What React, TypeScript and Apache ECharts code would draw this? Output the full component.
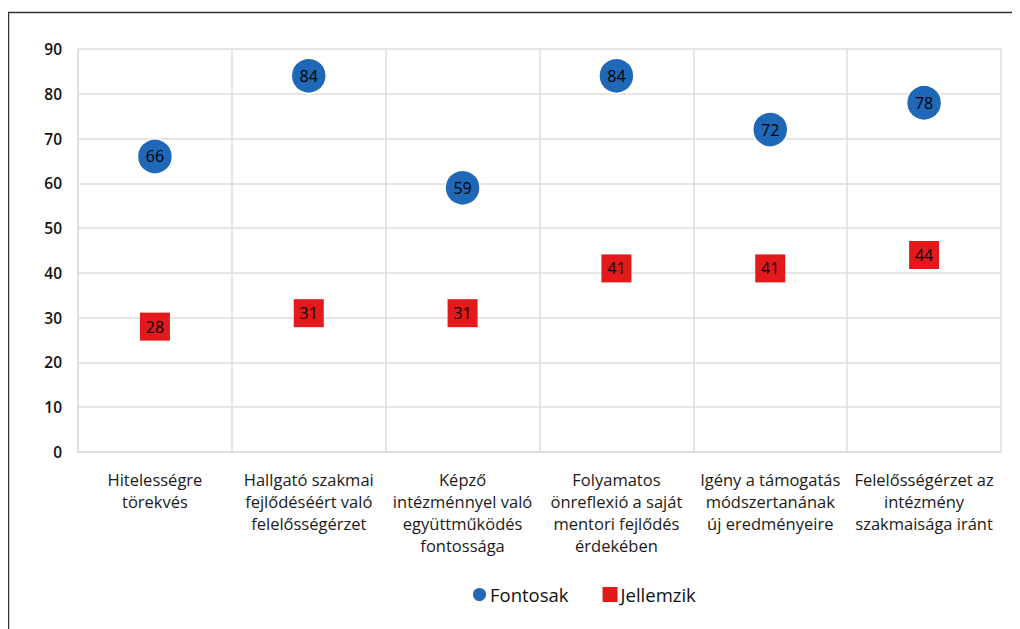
import React, { useEffect, useRef } from "react";
import * as echarts from "echarts";

const categories = [
  "Hitelességre\ntörekvés",
  "Hallgató szakmai\nfejlődéséért való\nfelelősségérzet",
  "Képző\nintézménnyel való\negyüttműködés\nfontossága",
  "Folyamatos\nönreflexió a saját\nmentori fejlődés\nérdekében",
  "Igény a támogatás\nmódszertanának\núj eredményeire",
  "Felelősségérzet az\nintézmény\nszakmaisága iránt",
];
const fontosak = [66, 84, 59, 84, 72, 78];
const jellemzik = [28, 31, 31, 41, 41, 44];
const yTicks = { min: 0, max: 90, interval: 10 };

const FONT = "'Open Sans', 'Noto Sans', sans-serif";

export default function App() {
  const ref = useRef<HTMLDivElement>(null);
  useEffect(() => {
    if (!ref.current) return;
    const chart = echarts.init(ref.current, undefined, { renderer: "svg" });
    chart.setOption({
      animation: false,
      textStyle: { fontFamily: FONT },
      graphic: [
        {
          type: "rect",
          shape: { x: 0.5, y: 4.5, width: 1200, height: 800 },
          style: { fill: "none", stroke: "#333", lineWidth: 1.5 },
          silent: true,
          z: -10,
        },
      ],
      grid: { left: 70, right: 19, top: 41, bottom: 177, containLabel: false },
      xAxis: {
        type: "category",
        data: categories,
        boundaryGap: true,
        axisTick: { show: false },
        axisLine: { show: true, lineStyle: { color: "#dcdcdc", width: 1.5 } },
        splitLine: { show: true, lineStyle: { color: "#dcdcdc", width: 1.5 } },
        axisLabel: {
          interval: 0,
          color: "#1a1a1a",
          fontSize: 16.5,
          lineHeight: 22,
          margin: 16,
          fontFamily: FONT,
        },
      },
      yAxis: {
        type: "value",
        min: yTicks.min,
        max: yTicks.max,
        interval: yTicks.interval,
        axisLine: { show: true, lineStyle: { color: "#dcdcdc", width: 1.5 } },
        axisTick: { show: false },
        splitLine: { show: true, lineStyle: { color: "#dcdcdc", width: 1.5 } },
        axisLabel: {
          color: "#111",
          fontSize: 15.5,
          fontWeight: 600,
          margin: 16,
          fontFamily: FONT,
        },
      },
      legend: {
        bottom: 20,
        left: 458,
        itemWidth: 15,
        itemHeight: 15,
        itemGap: 34,
        textStyle: { color: "#111", fontSize: 18.5, fontFamily: FONT, padding: [0, 0, 0, -2] },
        data: [
          { name: "Fontosak", icon: "circle" },
          { name: "Jellemzik", icon: "rect" },
        ],
      },
      series: [
        {
          name: "Fontosak",
          type: "scatter",
          data: fontosak,
          symbol: "circle",
          symbolSize: 35,
          itemStyle: { color: "#1f67b7", borderColor: "#fff", borderWidth: 1.5, opacity: 1 },
          label: {
            show: true,
            position: "inside",
            color: "#000",
            fontSize: 16,
            fontFamily: FONT,
          },
          z: 3,
        },
        {
          name: "Jellemzik",
          type: "scatter",
          data: jellemzik,
          symbol: "rect",
          symbolSize: [30, 28],
          itemStyle: { color: "#e3191c", opacity: 1 },
          label: {
            show: true,
            position: "inside",
            color: "#000",
            fontSize: 16,
            fontFamily: FONT,
          },
          z: 3,
        },
      ],
    });
    return () => chart.dispose();
  }, []);
  return <div ref={ref} style={{ width: 1012, height: 621 }} />;
}
